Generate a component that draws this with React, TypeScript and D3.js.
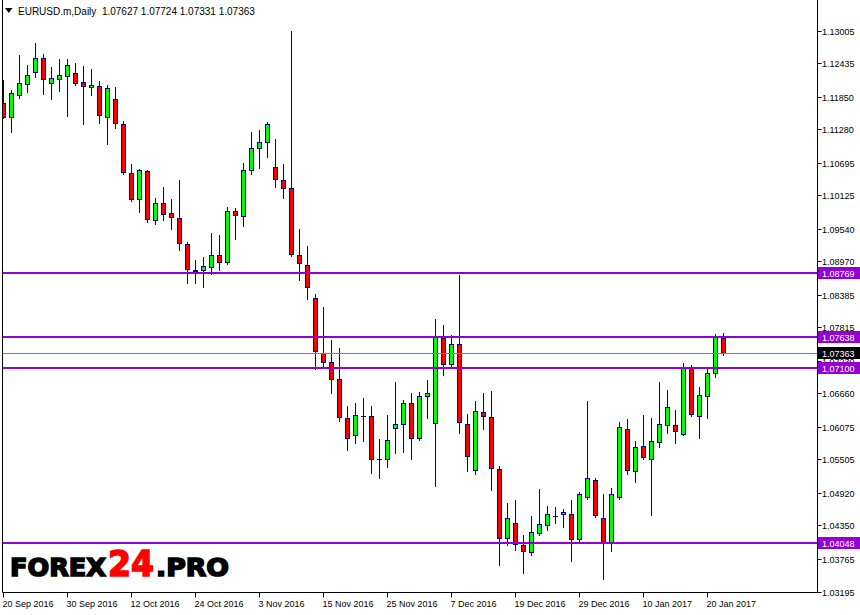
import { useEffect, useRef } from "react";
import * as d3 from "d3";

// Daily EURUSD candles, 20 Sep 2016 .. 24 Jan 2017 (weekdays)
const openPrices = [
  1.11731, 1.11486, 1.11871, 1.12064, 1.12274, 1.12518, 1.12081, 1.12151, 1.12204, 1.12256,
  1.121, 1.12011, 1.12034, 1.11486, 1.11801, 1.11364, 1.10507, 1.10052, 1.10542, 1.09685,
  1.09982, 1.09807, 1.0972, 1.09265, 1.08811, 1.08811, 1.08863, 1.09073, 1.0895, 1.09842,
  1.09755, 1.1056, 1.10944, 1.11049, 1.10612, 1.10385, 1.10245, 1.09073, 1.08898, 1.08321,
  1.07359, 1.07201, 1.06904, 1.06222, 1.05925, 1.06271, 1.06257, 1.05505, 1.05505, 1.06047,
  1.06117, 1.06484, 1.05872, 1.06607, 1.06135, 1.07621, 1.07166, 1.07516, 1.06117, 1.05312,
  1.06327, 1.06239, 1.0533, 1.04123, 1.04386, 1.04001, 1.03878, 1.04211, 1.04351, 1.04513,
  1.04543, 1.04543, 1.04106, 1.0484, 1.05138, 1.04473, 1.04053, 1.0484, 1.0603, 1.05295,
  1.05732, 1.05505, 1.05802, 1.061, 1.061, 1.05942, 1.07096, 1.06257, 1.06607, 1.07009,
  1.07627,
];
const highPrices = [
  1.12139, 1.11964, 1.12576, 1.12401, 1.12786, 1.12594, 1.12366, 1.12506, 1.12506, 1.12436,
  1.12384, 1.12331, 1.12121, 1.12051, 1.12016, 1.11422, 1.1067, 1.10577, 1.1056, 1.10075,
  1.10267, 1.10058, 1.1039, 1.093, 1.08985, 1.09038, 1.09458, 1.09428, 1.09912, 1.09895,
  1.10682, 1.11224, 1.11259, 1.11399, 1.11102, 1.10664, 1.12996, 1.09533, 1.09236, 1.08396,
  1.08163, 1.07591, 1.07446, 1.06437, 1.06484, 1.06572, 1.06437, 1.05855, 1.0628, 1.06857,
  1.06537, 1.06659, 1.06677, 1.06887, 1.07953, 1.07849, 1.07674, 1.08728, 1.06292, 1.06519,
  1.06659, 1.06694, 1.05382, 1.04735, 1.04793, 1.04176, 1.04513, 1.0498, 1.04683, 1.04665,
  1.0463, 1.04793, 1.04928, 1.06519, 1.05173, 1.04893, 1.04998, 1.06152, 1.06204, 1.0582,
  1.06274, 1.06222, 1.06852, 1.06712, 1.06362, 1.07184, 1.07149, 1.06764, 1.07096, 1.07691,
  1.07724,
];
const lowPrices = [
  1.11479, 1.11224, 1.11829, 1.11934, 1.12197, 1.11899, 1.11812, 1.11952, 1.11514, 1.12046,
  1.11375, 1.11882, 1.11392, 1.11025, 1.11305, 1.1049, 1.10028, 1.09835, 1.0966, 1.09626,
  1.09695, 1.09538, 1.0916, 1.08583, 1.08594, 1.08513, 1.08741, 1.08821, 1.08926, 1.09353,
  1.09591, 1.1049, 1.10594, 1.10787, 1.10262, 1.1008, 1.09066, 1.0865, 1.08303, 1.07079,
  1.07124, 1.06659, 1.0618, 1.05673, 1.05785, 1.0583, 1.0526, 1.05173, 1.05375, 1.0562,
  1.05638, 1.05515, 1.05837, 1.06232, 1.05043, 1.06974, 1.07096, 1.0596, 1.05306, 1.05243,
  1.0603, 1.04963, 1.03651, 1.04001, 1.03913, 1.03511, 1.03826, 1.04186, 1.04263, 1.04386,
  1.04316, 1.03721, 1.04071, 1.04816, 1.0449, 1.03406, 1.03896, 1.04805, 1.05243, 1.05103,
  1.05505, 1.04525, 1.05715, 1.0596, 1.05785, 1.05925, 1.06267, 1.05883, 1.06232, 1.06939,
  1.07331,
];
const closePrices = [
  1.11497, 1.11906, 1.12081, 1.12221, 1.12518, 1.12151, 1.12169, 1.12221, 1.12396, 1.12095,
  1.12029, 1.12046, 1.11521, 1.11994, 1.11382, 1.10525, 1.10052, 1.1056, 1.09702, 1.09982,
  1.0979, 1.09737, 1.09283, 1.08828, 1.08793, 1.0888, 1.09073, 1.0895, 1.09842, 1.09772,
  1.1056, 1.10944, 1.11049, 1.11364, 1.10402, 1.10245, 1.0909, 1.08933, 1.08513, 1.07399,
  1.07201, 1.06904, 1.06239, 1.05872, 1.06274, 1.06257, 1.05505, 1.05505, 1.05837, 1.06117,
  1.06484, 1.05872, 1.06607, 1.06659, 1.07639, 1.07166, 1.07516, 1.06152, 1.05557, 1.06344,
  1.06257, 1.05347, 1.04123, 1.04473, 1.04018, 1.03896, 1.04228, 1.04368, 1.04543, 1.0452,
  1.04578, 1.04106, 1.04893, 1.05173, 1.04525, 1.04053, 1.04893, 1.06065, 1.05312, 1.05715,
  1.0554, 1.0582, 1.06117, 1.06414, 1.05995, 1.07114, 1.06292, 1.06624, 1.07009, 1.07639,
  1.07363,
];

const levelLines = [1.08769, 1.07638, 1.071, 1.04048];
const lastPrice = 1.07363;
const yTickValues = [
  1.13005, 1.12435, 1.1185, 1.1128, 1.10695, 1.10125, 1.0954, 1.0897, 1.08385, 1.07815,
  1.0723, 1.0666, 1.06075, 1.05505, 1.0492, 1.0435, 1.03765, 1.03195,
];
const symbolLabel = "EURUSD.m,Daily";
const headerQuote = [1.07627, 1.07724, 1.07331, 1.07363];

const tradingDays = d3
  .timeDays(new Date(2016, 8, 20), new Date(2017, 0, 25))
  .filter((d) => d.getDay() !== 0 && d.getDay() !== 6);

export default function App() {
  const svgRef = useRef<SVGSVGElement>(null);

  useEffect(() => {
    if (!svgRef.current) return;
    const svg = d3.select(svgRef.current);
    svg.selectAll("*").remove();

    const W = 860;
    const H = 615;
    const plotRight = 817.5;
    const plotBottom = 592.5;
    const font = "'Liberation Sans', Arial, sans-serif";

    const x = d3.scaleLinear().domain([0, tradingDays.length - 1]).range([3.5, 3.5 + 8 * (tradingDays.length - 1)]);
    const y = d3.scaleLinear().domain([1.03195, 1.13005]).range([591.5, 30.5]);
    const snap = (v: number) => Math.round(v) + 0.5;

    svg.append("rect").attr("width", W).attr("height", H).attr("fill", "#fff");

    const plot = svg.append("g");
    plot
      .append("defs")
      .append("clipPath")
      .attr("id", "plotClip")
      .append("rect")
      .attr("x", 3)
      .attr("y", 0)
      .attr("width", plotRight - 3)
      .attr("height", plotBottom);
    const g = plot.append("g").attr("clip-path", "url(#plotClip)");

    // Candles
    const idx = d3.range(tradingDays.length);
    g.selectAll("line.wick")
      .data(idx)
      .enter()
      .append("line")
      .attr("x1", (i) => x(i))
      .attr("x2", (i) => x(i))
      .attr("y1", (i) => Math.round(y(highPrices[i])))
      .attr("y2", (i) => Math.round(y(lowPrices[i])) + 1)
      .attr("stroke", "#000080")
      .attr("stroke-width", 1);

    idx.forEach((i) => {
      const o = openPrices[i];
      const c = closePrices[i];
      const top = snap(y(Math.max(o, c)));
      const bot = snap(y(Math.min(o, c)));
      if (bot - top < 1) {
        g.append("line")
          .attr("x1", x(i) - 2.5)
          .attr("x2", x(i) + 2.5)
          .attr("y1", top)
          .attr("y2", top)
          .attr("stroke", "#000080");
      } else {
        g.append("rect")
          .attr("x", x(i) - 2)
          .attr("y", top)
          .attr("width", 4)
          .attr("height", bot - top)
          .attr("fill", c >= o ? "#00ff00" : "#ff0000")
          .attr("stroke", "#000080")
          .attr("stroke-width", 1);
      }
    });

    // Horizontal levels
    g.selectAll("line.level")
      .data(levelLines)
      .enter()
      .append("line")
      .attr("x1", 3)
      .attr("x2", plotRight)
      .attr("y1", (d) => Math.round(y(d)))
      .attr("y2", (d) => Math.round(y(d)))
      .attr("stroke", "#9400d3")
      .attr("stroke-width", 2);

    g.append("line")
      .attr("x1", 3)
      .attr("x2", plotRight)
      .attr("y1", snap(y(lastPrice)))
      .attr("y2", snap(y(lastPrice)))
      .attr("stroke", "#808080")
      .attr("stroke-width", 1);

    // Frame
    svg
      .append("path")
      .attr("d", `M2.5,0V${plotBottom}H${plotRight}V0`)
      .attr("fill", "none")
      .attr("stroke", "#000")
      .attr("stroke-width", 1);

    // Y axis
    const yAxis = svg.append("g");
    yTickValues.forEach((v) => {
      const yy = snap(y(v));
      yAxis
        .append("line")
        .attr("x1", plotRight)
        .attr("x2", plotRight + 4)
        .attr("y1", yy)
        .attr("y2", yy)
        .attr("stroke", "#000");
      yAxis
        .append("text")
        .attr("x", 822)
        .attr("y", yy + 3.5)
        .attr("font-family", font)
        .attr("font-size", 9)
        .attr("fill", "#000")
        .text(v.toFixed(5));
    });

    const priceTag = (v: number, bg: string) => {
      const yy = Math.round(y(v));
      yAxis
        .append("rect")
        .attr("x", 818)
        .attr("y", yy - 6)
        .attr("width", 42)
        .attr("height", 12)
        .attr("fill", bg);
      yAxis
        .append("text")
        .attr("x", 822)
        .attr("y", yy + 3.5)
        .attr("font-family", font)
        .attr("font-size", 9)
        .attr("fill", "#fff")
        .text(v.toFixed(5));
    };
    levelLines.forEach((v) => priceTag(v, "#9400d3"));
    priceTag(lastPrice, "#000");

    // X axis
    const fmt = d3.timeFormat("%-d %b %Y");
    const xTicks = idx.filter((i) => i % 8 === 0);
    xTicks.forEach((i) => {
      const xx = x(i);
      svg
        .append("line")
        .attr("x1", xx)
        .attr("x2", xx)
        .attr("y1", plotBottom)
        .attr("y2", plotBottom + 5)
        .attr("stroke", "#000");
      svg
        .append("text")
        .attr("x", xx - 1)
        .attr("y", 607)
        .attr("font-family", font)
        .attr("font-size", 9)
        .attr("fill", "#000")
        .text(fmt(tradingDays[i]));
    });

    // Header
    svg.append("path").attr("d", "M5,8H12.5L8.75,13Z").attr("fill", "#000");
    svg
      .append("text")
      .attr("x", 18)
      .attr("y", 14.5)
      .attr("font-family", font)
      .attr("font-size", 10)
      .attr("fill", "#000")
      .attr("xml:space", "preserve")
      .text(`${symbolLabel}  ${headerQuote.map((d) => d.toFixed(5)).join(" ")}`);

    // Watermark logo
    const logo = svg.append("g").attr("font-family", "'DejaVu Sans', 'Liberation Sans', sans-serif").attr("font-weight", "bold");
    const logoPart = (txt: string, x0: number, len: number, size: number, color: string) =>
      logo
        .append("text")
        .attr("x", x0)
        .attr("y", 576)
        .attr("font-size", size)
        .attr("fill", color)
        .attr("stroke", color)
        .attr("stroke-width", 1.6)
        .attr("textLength", len)
        .attr("lengthAdjust", "spacingAndGlyphs")
        .text(txt);
    logoPart("FOREX", 10, 96, 25, "#000");
    logoPart("24", 108, 46, 35, "#ff0000");
    logoPart(".PRO", 156, 73, 25, "#000");
  }, []);

  return (
    <svg
      ref={svgRef}
      width={860}
      height={615}
      style={{ position: "absolute", left: 0, top: 0, display: "block" }}
    />
  );
}
